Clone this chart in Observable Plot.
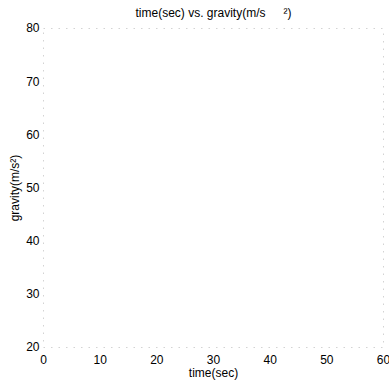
<!DOCTYPE html>
<html>
<head>
<meta charset="utf-8">
<script src="https://cdn.jsdelivr.net/npm/d3@7"></script>
<script src="https://cdn.jsdelivr.net/npm/@observablehq/plot@0.6"></script>
<style>
  html, body { margin: 0; padding: 0; background: #fff; }
  #chart svg { display: block; }
</style>
</head>
<body>
<div id="chart"></div>
<script>
// Axis tick values
const xTicks = [0, 10, 20, 30, 40, 50, 60];
const yTicks = [20, 30, 40, 50, 60, 70, 80];
// No data series is visible in the (faded) reference plot
const timeSec = [];
const gravity = [];

const titleText = "time(sec) vs. gravity(m/s\u2003\u2002\u00b2)";
const xLabel = "time(sec)";
const yLabel = "gravity(m/s\u00b2)";

const font = "'Liberation Sans', Arial, Helvetica, sans-serif";

const chart = Plot.plot({
  width: 389,
  height: 385,
  marginLeft: 43,
  marginRight: 6,
  marginTop: 28,
  marginBottom: 38,
  style: { fontFamily: font, fontSize: "12px", color: "#000", background: "#fff" },
  x: { domain: [0, 60], ticks: xTicks },
  y: { domain: [20, 80], ticks: yTicks },
  marks: [
    Plot.frame({ stroke: "#c8c8c8", strokeDasharray: "1.5,6", strokeWidth: 0.8 }),
    Plot.line(timeSec.map((t, i) => ({ t, g: gravity[i] })), { x: "t", y: "g", stroke: "#000" }),
    Plot.axisX({ ticks: xTicks, tickSize: 0, tickPadding: 8, label: null, fontSize: 12, fill: "#000" }),
    Plot.axisY({ ticks: yTicks, tickSize: 0, tickPadding: 4, label: null, fontSize: 12, fill: "#000" }),
    Plot.text([titleText], { frameAnchor: "top", dy: -20, fontSize: 12, fill: "#000" }),
    Plot.text([xLabel], { frameAnchor: "bottom", dy: 29, fontSize: 12, fill: "#000" }),
    Plot.text([yLabel], { frameAnchor: "left", textAnchor: "middle", dx: -28, rotate: -90, fontSize: 12, fill: "#000" })
  ]
});
document.getElementById("chart").appendChild(chart);
</script>
</body>
</html>
